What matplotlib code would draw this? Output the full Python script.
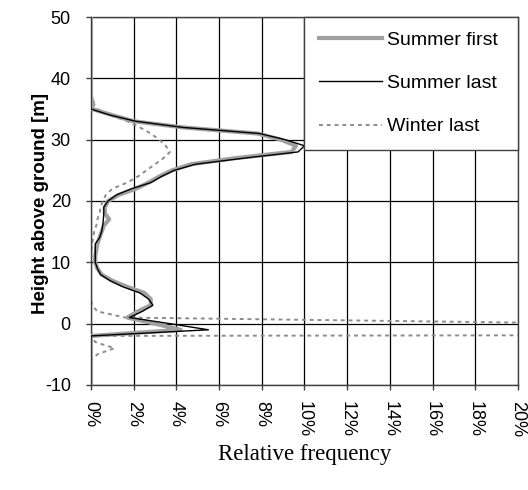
import numpy as np
import matplotlib
matplotlib.use('Agg')
import matplotlib.pyplot as plt
from matplotlib.ticker import FuncFormatter

plt.rcParams['axes.unicode_minus'] = False

# heights in metres, 1 m bins
heights = [50, 37, 36, 35, 34, 33, 32, 31, 30, 29, 28, 27, 26, 25, 24, 23, 22, 21,
           20, 19, 18, 17, 16, 15, 14, 13, 12, 11, 10, 9, 8, 7, 6, 5, 4, 3, 2, 1,
           0, -1, -2, -3, -4, -5, -6, -10]

# relative frequency in percent
summer_first = [0, 0, 0.1, 0.05, 1.0, 2.0, 4.3, 7.8, 8.9, 9.6, 9.4, 6.8, 4.7, 3.8,
                3.2, 2.7, 2.1, 1.3, 0.8, 0.65, 0.65, 0.85, 0.6, 0.5, 0.4, 0.3,
                0.25, 0.2, 0.2, 0.3, 0.5, 1.0, 1.7, 2.5, 2.8, 2.8, 2.2, 1.7,
                3.0, 4.2, 0, 0, 0, 0, 0, 0]
summer_last = [0, 0, 0, 0, 0.9, 2.1, 4.3, 7.9, 9.1, 10.0, 9.7, 7.2, 4.9, 3.9,
               3.3, 2.8, 1.9, 1.2, 0.8, 0.6, 0.6, 0.58, 0.55, 0.5, 0.4, 0.2,
               0.2, 0.2, 0.2, 0.3, 0.45, 0.9, 1.5, 2.3, 2.7, 2.9, 2.4, 1.8,
               3.7, 5.5, 0, 0, 0, 0, 0, 0]
winter_last = [0, 0, 0.1, 0.3, 0.9, 1.7, 2.3, 2.8, 3.2, 3.5, 3.7, 3.4, 3.0, 2.6,
               2.2, 1.7, 1.0, 0.7, 0.55, 0.45, 0.4, 0.3, 0.25, 0.15, 0.1, 0.05,
               0.03, 0, 0, 0, 0, 0, 0, 0, 0, 0.05, 0.3, 1.6,
               24.0, 200.0, 0, 0.2, 1.1, 0.3, 0, 0]

x_ticks = np.arange(0, 21, 2)
y_ticks = np.arange(-10, 51, 10)

fig = plt.figure(figsize=(5.28, 4.90), dpi=100)
ax = fig.add_axes([0.1723, 0.2143, 0.8087, 0.751])

ax.plot(summer_first, heights, color='#a0a0a0', lw=3.0, label='Summer first', zorder=3)
ax.plot(summer_last, heights, color='black', lw=1.0, label='Summer last', zorder=4)
ax.plot(winter_last, heights, color='#8c8c8c', lw=1.4, ls=(0, (2, 2)),
        label='Winter last', zorder=2)

ax.set_xlim(0, 20)
ax.set_ylim(-10, 50)
ax.set_xticks(x_ticks)
ax.set_yticks(y_ticks)
ax.xaxis.set_major_formatter(FuncFormatter(lambda v, p: '%d%%' % v))
ax.grid(True, color='black', lw=0.9)
ax.set_axisbelow(True)
for s in ax.spines.values():
    s.set_color('#404040')
    s.set_linewidth(1.0)

for t in ax.get_xticklabels():
    t.set_rotation(-90)
    t.set_fontfamily('Liberation Sans')
    t.set_fontsize(13)
for t in ax.get_yticklabels():
    t.set_fontfamily('Liberation Sans')
    t.set_fontsize(13)
ax.tick_params(axis='both', direction='out', length=3.5, width=1, color='#404040')
ax.tick_params(axis='x', pad=8)
ax.tick_params(axis='y', pad=11)

fig.text(0.0758, 0.5847, 'Height above ground [m]', family='Liberation Sans',
         size=13.5, weight='bold', rotation=90, ha='center', va='center')
fig.text(0.578, 0.072, 'Relative frequency', family='Liberation Serif', size=16.5,
         ha='center', va='center')

leg = ax.legend(loc='upper left', bbox_to_anchor=(0.499, 0.0, 0.501, 1.0),
                mode='expand', borderaxespad=0, fancybox=False, framealpha=1,
                edgecolor='#404040', prop=dict(family='Liberation Sans', size=14),
                handlelength=3.25, handletextpad=0.26, labelspacing=1.31,
                borderpad=0.75)
leg.get_frame().set_linewidth(1.0)
leg.set_zorder(10)

fig.savefig('out.png', dpi=100, facecolor='white')
